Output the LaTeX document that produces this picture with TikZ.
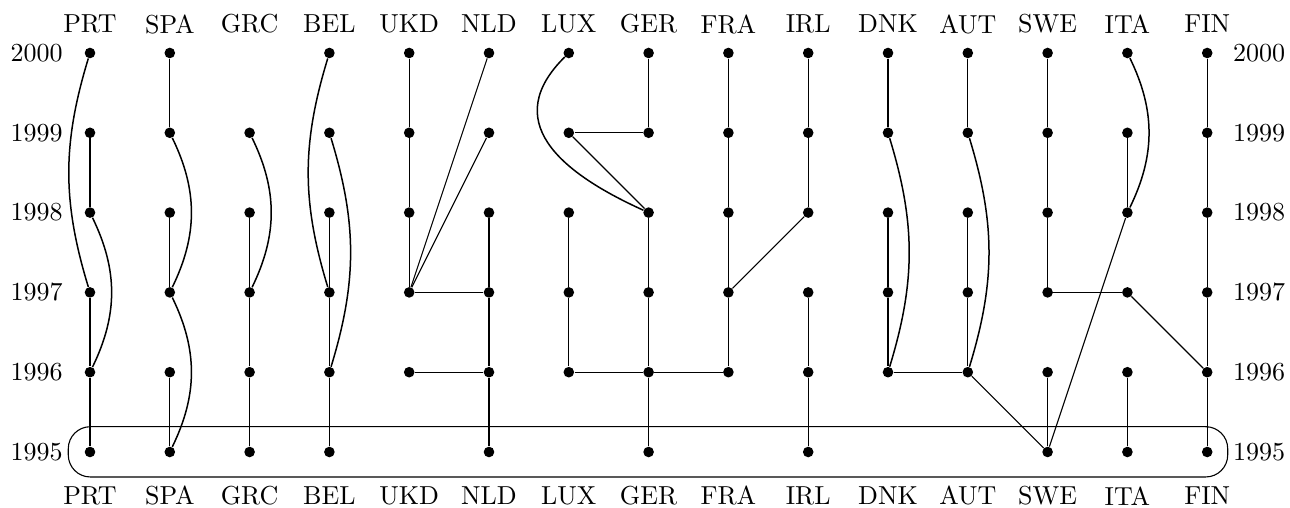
\documentclass[tikz,border=0pt]{standalone}
\usetikzlibrary{calc}
\begin{document}
\begin{tikzpicture}[x=39.9pt,y=39.9pt,
  dot/.style={circle,fill=black,inner sep=0pt,minimum size=5.3pt},
  lbl/.style={inner sep=0pt,font=\fontsize{10}{12}\selectfont,scale=1.3,transform shape},
  edge/.style={line width=0.55pt},
  arc/.style={line width=0.75pt},
  bl2/.style={bend left=26},
  bl3/.style={bend left=17},
  br3/.style={bend right=17}]
\useasboundingbox (-1.1278,-0.7018) rectangle (15.0376,5.664);
% dots
\foreach \c/\i/\ys in {
  PRT/0/{1995,1996,1997,1998,1999,2000},
  SPA/1/{1995,1996,1997,1998,1999,2000},
  GRC/2/{1995,1996,1997,1998,1999},
  BEL/3/{1995,1996,1997,1998,1999,2000},
  UKD/4/{1996,1997,1998,1999,2000},
  NLD/5/{1995,1996,1997,1998,1999,2000},
  LUX/6/{1996,1997,1998,1999,2000},
  GER/7/{1995,1996,1997,1998,1999,2000},
  FRA/8/{1996,1997,1998,1999,2000},
  IRL/9/{1995,1996,1997,1998,1999,2000},
  DNK/10/{1996,1997,1998,1999,2000},
  AUT/11/{1996,1997,1998,1999,2000},
  SWE/12/{1995,1996,1997,1998,1999,2000},
  ITA/13/{1995,1996,1997,1998,1999,2000},
  FIN/14/{1995,1996,1997,1998,1999,2000}}{
  \node[lbl] (top\c) at (\i,5.363) {\c};
  \node[lbl] (bot\c) at (\i,-0.551) {\c};
  \foreach \y in \ys {
    \pgfmathtruncatemacro{\yy}{\y-1995}
    \node[dot] (\c\y) at (\i,\yy) {};
  }
}
% year labels
\foreach \y in {1995,...,2000}{
  \pgfmathtruncatemacro{\yy}{\y-1995}
  \node[lbl] (L\y) at (-0.668,\yy) {\y};
  \node[lbl] (R\y) at (14.65,\yy) {\y};
}
% 1995 frame
\draw[line width=0.55pt,rounded corners=11pt] (-0.272,-0.313) rectangle (14.257,0.317);
% straight edges
\foreach \a/\b in {
  PRT1999/PRT1998, PRT1997/PRT1996, PRT1996/PRT1995,
  SPA2000/SPA1999, SPA1998/SPA1997, SPA1996/SPA1995,
  GRC1998/GRC1997, GRC1997/GRC1996, GRC1996/GRC1995,
  BEL1998/BEL1997, BEL1997/BEL1996, BEL1996/BEL1995,
  UKD2000/UKD1999, UKD1999/UKD1998, UKD1998/UKD1997,
  UKD1997/NLD2000, UKD1997/NLD1999, UKD1997/NLD1997, UKD1996/NLD1996,
  NLD1998/NLD1997, NLD1997/NLD1996, NLD1996/NLD1995,
  LUX1999/GER1999, LUX1999/GER1998, LUX1998/LUX1997, LUX1997/LUX1996, LUX1996/GER1996,
  GER2000/GER1999, GER1998/GER1997, GER1997/GER1996, GER1996/GER1995, GER1996/FRA1996,
  FRA2000/FRA1999, FRA1999/FRA1998, FRA1998/FRA1997, FRA1997/FRA1996, FRA1997/IRL1998,
  IRL2000/IRL1999, IRL1999/IRL1998, IRL1997/IRL1996, IRL1996/IRL1995,
  DNK2000/DNK1999, DNK1998/DNK1997, DNK1997/DNK1996, DNK1996/AUT1996,
  AUT2000/AUT1999, AUT1998/AUT1997, AUT1997/AUT1996, AUT1996/SWE1995,
  SWE2000/SWE1999, SWE1999/SWE1998, SWE1998/SWE1997, SWE1997/ITA1997, SWE1996/SWE1995, SWE1995/ITA1998,
  ITA1999/ITA1998, ITA1997/FIN1996, ITA1996/ITA1995,
  FIN2000/FIN1999, FIN1999/FIN1998, FIN1998/FIN1997, FIN1997/FIN1996, FIN1996/FIN1995}{
  \draw[edge] (\a) -- (\b);
}
% curved edges
\draw[arc] (PRT2000) to[br3] (PRT1997);
\draw[arc] (PRT1998) to[bl2] (PRT1996);
\draw[arc] (SPA1999) to[bl2] (SPA1997);
\draw[arc] (SPA1997) to[bl2] (SPA1995);
\draw[arc] (GRC1999) to[bl2] (GRC1997);
\draw[arc] (BEL2000) to[br3] (BEL1997);
\draw[arc] (BEL1999) to[bl3] (BEL1996);
\draw[arc] (DNK1999) to[bl3] (DNK1996);
\draw[arc] (AUT1999) to[bl3] (AUT1996);
\draw[arc] (ITA2000) to[bl2] (ITA1998);
\draw[arc] (LUX2000) .. controls +(-0.85,-0.84) and +(-1.15,0.52) .. (GER1998);
\end{tikzpicture}
\end{document}
